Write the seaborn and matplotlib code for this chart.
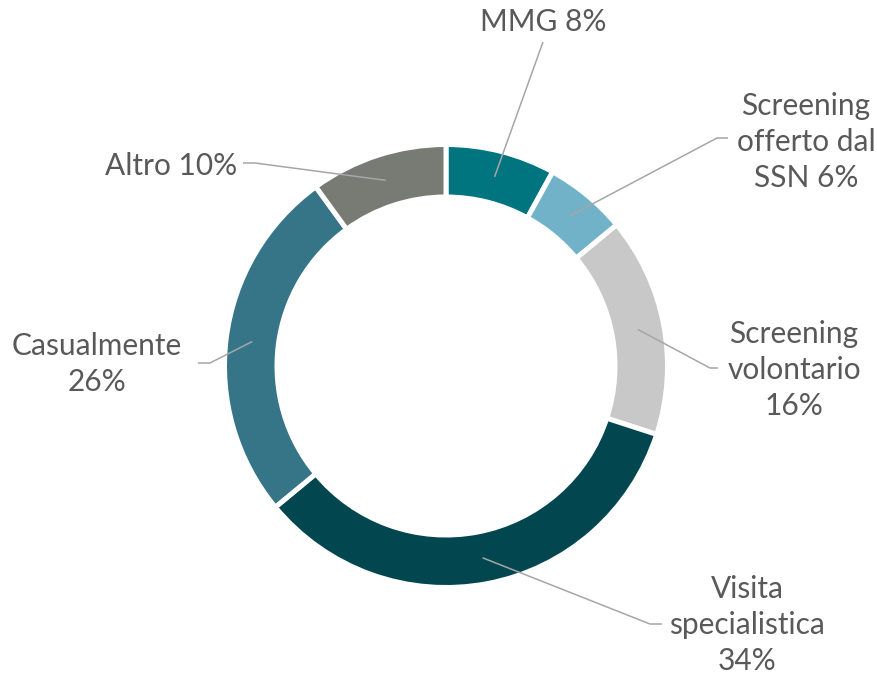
import numpy as np
import matplotlib
matplotlib.use("Agg")
from matplotlib import pyplot as plt
import seaborn as sns

categories = ["MMG", "Screening offerto dal SSN", "Screening volontario",
              "Visita specialistica", "Casualmente", "Altro"]
values = [8, 6, 16, 34, 26, 10]
labels = ["MMG 8%", "Screening\nofferto dal\nSSN 6%", "Screening\nvolontario\n16%",
          "Visita\nspecialistica\n34%", "Casualmente\n26%", "Altro 10%"]
colors = ["#007580", "#72B2C9", "#C8C8C8", "#02474F", "#357587", "#787A74"]

sns.set_theme(style="white")
plt.rcParams['font.family'] = ['Lato', 'DejaVu Sans']

W, H = 877, 678
fig = plt.figure(figsize=(W / 100, H / 100), dpi=100)
ax = fig.add_axes([0, 0, 1, 1])

def Y(y):
    return H - y

cx, cy = 446, Y(366)
r_out, r_in = 221.5, 169

ax.pie(values, colors=colors, startangle=90, counterclock=False,
       center=(cx, cy), radius=r_out, frame=True,
       wedgeprops=dict(width=r_out - r_in, edgecolor="white", linewidth=3.6))
ax.set_xlim(0, W)
ax.set_ylim(0, H)
ax.set_aspect("equal")
ax.axis("off")

# label centers and leader bend/end points (pixel coords, top-left origin)
label_pos = [(543, 22), (806, 142), (794, 370), (747, 625), (97, 364), (171, 166)]
leaders = [[(543, 42)],
           [(717, 138), (728, 138)],
           [(710, 368), (718, 368)],
           [(650, 624), (662, 624)],
           [(210, 363), (198, 363)],
           [(255, 163), (243, 163)]]

r_mid = (r_out + r_in) / 2
cum = 0
for v, lab, pos, pts in zip(values, labels, label_pos, leaders):
    ang = np.deg2rad(90 - 360 * (cum + v / 2) / 100)
    cum += v
    ax_, ay_ = cx + r_mid * np.cos(ang), cy + r_mid * np.sin(ang)
    xs = [ax_] + [p[0] for p in pts]
    ys = [ay_] + [Y(p[1]) for p in pts]
    ax.plot(xs, ys, color="#A6A6A6", lw=1.1, solid_capstyle="butt")
    ax.text(pos[0], Y(pos[1]), lab, ha="center", va="center", fontsize=21.5,
            color="#595959", linespacing=1.36)

fig.savefig("out.png", dpi=100)
